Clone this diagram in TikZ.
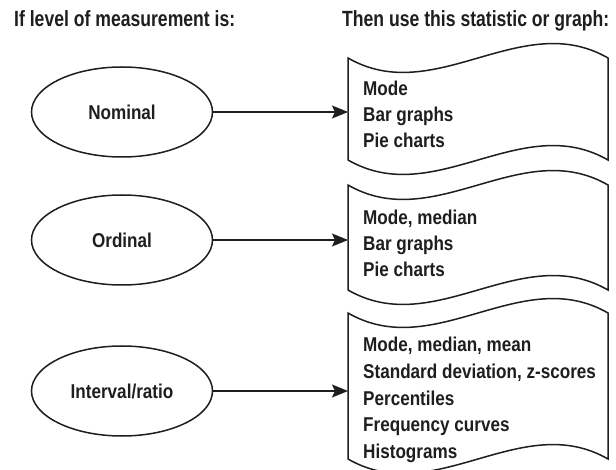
\documentclass[tikz,border=0pt]{standalone}
\usepackage{fontspec}
\setmainfont{Liberation Sans}
\newfontfamily\headfont[FakeStretch=0.8]{Liberation Sans}
\newfontfamily\bodyfont[FakeStretch=0.855]{Liberation Sans}
\usetikzlibrary{arrows.meta,shapes.geometric}
\definecolor{inkc}{HTML}{1E1E1E}
\begin{document}
\begin{tikzpicture}[x=1pt,y=-1pt,
  ink/.style={draw=inkc,line width=1.5pt},
  level/.style={ink,ellipse,minimum width=181pt,minimum height=90pt,inner sep=0pt,
    text=inkc,font=\bodyfont\bfseries\fontsize{20}{24}\selectfont},
  head/.style={anchor=base west,inner sep=0pt,text=inkc,
    font=\headfont\bfseries\fontsize{22}{26}\selectfont},
  item/.style={anchor=base west,inner sep=0pt,text=inkc,
    font=\bodyfont\bfseries\fontsize{20}{24}\selectfont},
  feed/.style={ink,-{Stealth[length=16pt,width=13pt,inset=3pt]}},
  sheet/.style={ink,line join=miter}
]
\useasboundingbox (0,0) rectangle (616,470);

% column headings
\node[head] (hl) at (14,27) {If level of measurement is:};
\node[head] (hr) at (342,27) {Then use this statistic or graph:};

% levels of measurement
\node[level] (nom) at (122,112) {Nominal};
\node[level] (ord) at (122,240) {Ordinal};
\node[level] (int) at (122,391) {Interval/ratio};

% wavy document sheets
\draw[sheet] (348,58) .. controls (434.7,108) and (521.3,8) .. (608,58)
  -- (608,160) .. controls (521.3,110) and (434.7,210) .. (348,160) -- cycle;
\draw[sheet] (348,185) .. controls (434.7,235) and (521.3,135) .. (608,185)
  -- (608,290) .. controls (521.3,240) and (434.7,340) .. (348,290) -- cycle;
\draw[sheet] (348,313) .. controls (434.7,363) and (521.3,263) .. (608,313)
  -- (608,459) .. controls (521.3,409) and (434.7,509) .. (348,459) -- cycle;

\coordinate (s1) at (348,112);
\coordinate (s2) at (348,240);
\coordinate (s3) at (348,391);

% sheet contents
\node[item] (a1) at (363,96) {Mode};
\node[item] (a2) at (363,122) {Bar graphs};
\node[item] (a3) at (363,148) {Pie charts};

\node[item] (b1) at (363,225) {Mode, median};
\node[item] (b2) at (363,251) {Bar graphs};
\node[item] (b3) at (363,277) {Pie charts};

\node[item] (c1) at (363,352) {Mode, median, mean};
\node[item] (c2) at (363,378.5) {Standard deviation, z-scores};
\node[item] (c3) at (363,405) {Percentiles};
\node[item] (c4) at (363,431.5) {Frequency curves};
\node[item] (c5) at (363,458) {Histograms};

% connectors
\draw[feed] (nom.east) -- (s1);
\draw[feed] (ord.east) -- (s2);
\draw[feed] (int.east) -- (s3);
\end{tikzpicture}
\end{document}
